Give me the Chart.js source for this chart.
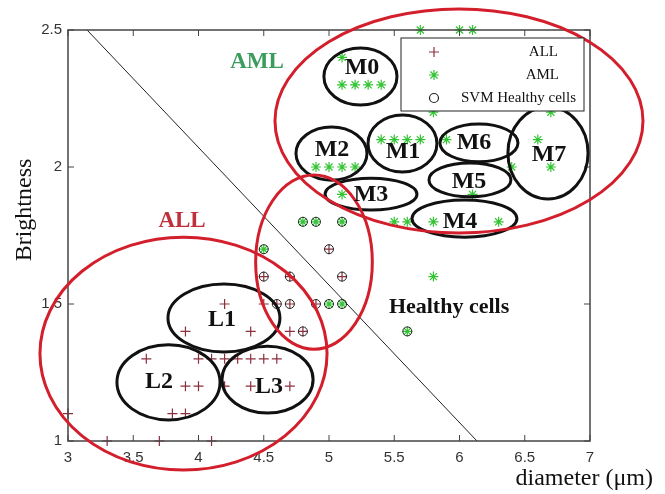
<!DOCTYPE html>
<html>
<head>
<meta charset="utf-8">
<script src="https://cdn.jsdelivr.net/npm/chart.js@4.4.1/dist/chart.umd.min.js"></script>
<style>
  body { margin: 0; background: #fff; }
  canvas { display: block; }
</style>
</head>
<body>
<canvas id="myChart" width="665" height="494"></canvas>
<script>
// ALL cells (+)
const allX = [3.0, 3.3, 3.7, 4.1, 3.8, 3.9, 3.9, 4.0, 4.2, 4.4, 4.7, 3.6, 4.0, 4.1, 4.2, 4.3, 4.4, 4.5, 4.6, 3.9, 4.4, 4.7, 4.2, 4.5, 5.0, 4.5, 4.7, 5.1, 4.6, 4.7, 4.9, 4.8];
const allY = [1.1, 1.0, 1.0, 1.0, 1.1, 1.1, 1.2, 1.2, 1.2, 1.2, 1.2, 1.3, 1.3, 1.3, 1.3, 1.3, 1.3, 1.3, 1.3, 1.4, 1.4, 1.4, 1.5, 1.5, 1.7, 1.6, 1.6, 1.6, 1.5, 1.5, 1.5, 1.4];
// AML cells (*)
const amlX = [5.7, 6.0, 6.1, 5.1, 5.1, 5.2, 5.3, 5.4, 5.8, 6.7, 5.4, 5.5, 5.6, 5.7, 5.9, 6.6, 4.9, 5.0, 5.1, 5.2, 6.4, 6.7, 5.1, 6.1, 5.5, 5.6, 5.8, 6.3, 5.8, 4.8, 4.9, 5.1, 4.5, 5.0, 5.1, 5.6];
const amlY = [2.5, 2.5, 2.5, 2.4, 2.3, 2.3, 2.3, 2.3, 2.2, 2.2, 2.1, 2.1, 2.1, 2.1, 2.1, 2.1, 2.0, 2.0, 2.0, 2.0, 2.0, 2.0, 1.9, 1.9, 1.8, 1.8, 1.8, 1.8, 1.6, 1.8, 1.8, 1.8, 1.7, 1.5, 1.5, 1.4];
// points the SVM marks as healthy (o)
const svmX = [4.8, 4.9, 5.1, 4.5, 5.0, 4.5, 4.7, 5.1, 4.6, 4.7, 4.9, 5.0, 5.1, 4.8, 5.6];
const svmY = [1.8, 1.8, 1.8, 1.7, 1.7, 1.6, 1.6, 1.6, 1.5, 1.5, 1.5, 1.5, 1.5, 1.4, 1.4];
// separating line
const boundaryX = [3.146, 6.134];
const boundaryY = [2.5, 1.0];

const xTicks = [3, 3.5, 4, 4.5, 5, 5.5, 6, 6.5, 7];
const yTicks = [1, 1.5, 2, 2.5];

// groups drawn on top (data units): [cx, cy, rx, ry]
const redRings = [[5.996, 2.168, 1.41, 0.409], [3.885, 1.319, 1.10, 0.425], [4.885, 1.653, 0.447, 0.318]];
const blackRings = [
  [5.241, 2.330, 0.280, 0.104], [5.019, 2.049, 0.272, 0.097], [5.563, 2.086, 0.264, 0.104],
  [5.322, 1.901, 0.352, 0.058], [6.038, 1.812, 0.402, 0.068], [6.080, 1.953, 0.314, 0.062],
  [6.149, 2.088, 0.299, 0.069], [6.678, 2.051, 0.307, 0.168],
  [4.195, 1.449, 0.429, 0.124], [3.770, 1.214, 0.395, 0.137], [4.529, 1.224, 0.349, 0.122]
];
const groupNames = ["M0", "M2", "M1", "M3", "M4", "M5", "M6", "M7", "L1", "L2", "L3"];
const groupPos = [[5.253, 2.361], [5.023, 2.062], [5.567, 2.055], [5.322, 1.898], [6.004, 1.799], [6.073, 1.945], [6.111, 2.088], [6.686, 2.044], [4.180, 1.442], [3.697, 1.215], [4.540, 1.197]];

function toPoints(xs, ys) {
    return xs.map(function (x, i) { return { x: x, y: ys[i] }; });
}

function drawMarker(ctx, style, x, y, r, color) {
    ctx.save();
    ctx.strokeStyle = color;
    ctx.lineWidth = 1.2;
    ctx.beginPath();
    if (style === "cross" || style === "star") {
        ctx.moveTo(x - r, y); ctx.lineTo(x + r, y);
        ctx.moveTo(x, y - r); ctx.lineTo(x, y + r);
    }
    if (style === "star") {
        const d = r * 0.707;
        ctx.moveTo(x - d, y - d); ctx.lineTo(x + d, y + d);
        ctx.moveTo(x - d, y + d); ctx.lineTo(x + d, y - d);
    }
    if (style === "circle") {
        ctx.arc(x, y, r, 0, Math.PI * 2);
    }
    ctx.stroke();
    ctx.restore();
}

const extras = {
    id: "extras",
    afterDatasetsDraw(chart) {
        const ctx = chart.ctx;
        const xs = chart.scales.x, ys = chart.scales.y;
        const a = chart.chartArea;

        // box and inner ticks
        ctx.save();
        ctx.strokeStyle = "#444";
        ctx.lineWidth = 1.5;
        ctx.strokeRect(a.left, a.top, a.right - a.left, a.bottom - a.top);
        ctx.lineWidth = 1;
        ctx.beginPath();
        xTicks.forEach(function (t) {
            const p = xs.getPixelForValue(t);
            ctx.moveTo(p, a.bottom); ctx.lineTo(p, a.bottom - 6);
            ctx.moveTo(p, a.top); ctx.lineTo(p, a.top + 6);
        });
        yTicks.forEach(function (t) {
            const p = ys.getPixelForValue(t);
            ctx.moveTo(a.left, p); ctx.lineTo(a.left + 6, p);
            ctx.moveTo(a.right, p); ctx.lineTo(a.right - 6, p);
        });
        ctx.stroke();
        ctx.restore();

        function ring(e, color) {
            const cx = xs.getPixelForValue(e[0]);
            const cy = ys.getPixelForValue(e[1]);
            const rx = Math.abs(xs.getPixelForValue(e[0] + e[2]) - cx);
            const ry = Math.abs(ys.getPixelForValue(e[1] + e[3]) - cy);
            ctx.save();
            ctx.strokeStyle = color;
            ctx.lineWidth = 3;
            ctx.beginPath();
            ctx.ellipse(cx, cy, rx, ry, 0, 0, Math.PI * 2);
            ctx.stroke();
            ctx.restore();
        }
        blackRings.forEach(function (e) { ring(e, "#111"); });
        redRings.forEach(function (e) { ring(e, "#d31f2c"); });

        // labels
        ctx.save();
        ctx.textAlign = "center";
        ctx.textBaseline = "middle";
        ctx.font = "bold 24px 'Liberation Serif'";
        ctx.fillStyle = "#111";
        groupNames.forEach(function (n, i) {
            ctx.fillText(n, xs.getPixelForValue(groupPos[i][0]), ys.getPixelForValue(groupPos[i][1]));
        });
        ctx.font = "bold 22px 'Liberation Serif'";
        ctx.fillText("Healthy cells", xs.getPixelForValue(5.92), ys.getPixelForValue(1.489));
        ctx.font = "bold 23px 'Liberation Serif'";
        ctx.fillStyle = "#3a9d5d";
        ctx.fillText("AML", xs.getPixelForValue(4.448), ys.getPixelForValue(2.383));
        ctx.fillStyle = "#c0303c";
        ctx.fillText("ALL", xs.getPixelForValue(3.874), ys.getPixelForValue(1.803));

        // axis titles
        ctx.fillStyle = "#111";
        ctx.font = "24px 'Liberation Serif'";
        ctx.textAlign = "right";
        ctx.fillText("diameter (\u03bcm)", 653, 479);
        ctx.translate(25, 210);
        ctx.rotate(-Math.PI / 2);
        ctx.textAlign = "center";
        ctx.fillText("Brightness", 0, 0);
        ctx.restore();

        // legend
        const lx = a.right - 189, ly = a.top + 8;
        ctx.save();
        ctx.fillStyle = "#fff";
        ctx.fillRect(lx, ly, 183, 73);
        ctx.strokeStyle = "#222";
        ctx.lineWidth = 1;
        ctx.strokeRect(lx, ly, 183, 73);
        ctx.font = "15px 'Liberation Serif'";
        ctx.textBaseline = "middle";
        ctx.textAlign = "right";
        ctx.fillStyle = "#111";
        const textRight = [157, 158, 175];
        chart.data.datasets.slice(0, 3).forEach(function (ds, i) {
            const y = ly + 14 + i * 23;
            drawMarker(ctx, ds.pointStyle, lx + 33, y, ds.pointStyle === "circle" ? 4.5 : 5, ds.borderColor);
            ctx.fillText(ds.label, lx + textRight[i], y);
        });
        ctx.restore();
    }
};

document.addEventListener("DOMContentLoaded", function () {
    const ctx = document.getElementById("myChart").getContext("2d");

    const tickFont = { family: "'Liberation Sans'", size: 15 };

    new Chart(ctx, {
        type: "scatter",
        data: {
            datasets: [
                {
                    label: "ALL",
                    data: toPoints(allX, allY),
                    pointStyle: "cross",
                    pointRadius: 5,
                    borderWidth: 1.2,
                    borderColor: "#8c2f3c",
                    backgroundColor: "#8c2f3c",
                    clip: false,
                    order: 3,
                },
                {
                    label: "AML",
                    data: toPoints(amlX, amlY),
                    pointStyle: "star",
                    pointRadius: 5,
                    borderWidth: 1.2,
                    borderColor: "#33c433",
                    backgroundColor: "#33c433",
                    clip: false,
                    order: 2,
                },
                {
                    label: "SVM Healthy cells",
                    data: toPoints(svmX, svmY),
                    pointStyle: "circle",
                    pointRadius: 4.5,
                    borderWidth: 1,
                    borderColor: "#222",
                    backgroundColor: "rgba(0,0,0,0)",
                    clip: false,
                    order: 1,
                },
                {
                    label: "boundary",
                    data: toPoints(boundaryX, boundaryY),
                    showLine: true,
                    pointRadius: 0,
                    borderWidth: 1,
                    borderColor: "#222",
                    clip: false,
                    order: 4,
                },
            ],
        },
        options: {
            responsive: false,
            animation: false,
            layout: { padding: { top: 30, right: 75, left: 0, bottom: 0 } },
            plugins: {
                legend: { display: false },
                tooltip: { enabled: false },
            },
            scales: {
                x: {
                    type: "linear",
                    min: 3,
                    max: 7,
                    afterBuildTicks: function (s) { s.ticks = xTicks.map(function (v) { return { value: v }; }); },
                    afterFit: function (s) { s.height = 53; },
                    grid: { display: false, drawTicks: false },
                    border: { display: false },
                    ticks: { padding: 8, color: "#333", font: tickFont, callback: function (v) { return String(v); } },
                },
                y: {
                    type: "linear",
                    min: 1,
                    max: 2.5,
                    afterBuildTicks: function (s) { s.ticks = yTicks.map(function (v) { return { value: v }; }); },
                    afterFit: function (s) { s.width = 68; },
                    grid: { display: false, drawTicks: false },
                    border: { display: false },
                    ticks: { padding: 6, color: "#333", font: tickFont, callback: function (v) { return String(v); } },
                },
            },
        },
        plugins: [extras],
    });
});
</script>
</body>
</html>
